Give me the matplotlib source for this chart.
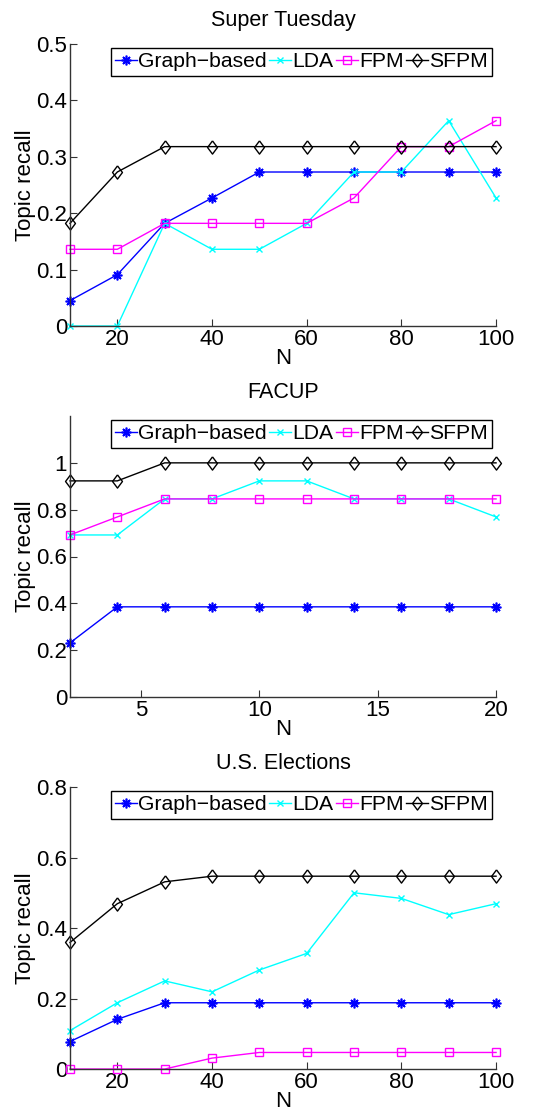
import matplotlib
matplotlib.use('Agg')
import matplotlib.pyplot as plt

plt.rcParams['font.family'] = ['Liberation Sans', 'DejaVu Sans']

# Super Tuesday
n_st = [10, 20, 30, 40, 50, 60, 70, 80, 90, 100]
st_graph = [0.045, 0.091, 0.182, 0.227, 0.273, 0.273, 0.273, 0.273, 0.273, 0.273]
st_lda = [0.0, 0.0, 0.182, 0.136, 0.136, 0.182, 0.273, 0.273, 0.364, 0.227]
st_fpm = [0.136, 0.136, 0.182, 0.182, 0.182, 0.182, 0.227, 0.318, 0.318, 0.364]
st_sfpm = [0.182, 0.273, 0.318, 0.318, 0.318, 0.318, 0.318, 0.318, 0.318, 0.318]

# FACUP
n_fa = [2, 4, 6, 8, 10, 12, 14, 16, 18, 20]
fa_graph = [0.231, 0.385, 0.385, 0.385, 0.385, 0.385, 0.385, 0.385, 0.385, 0.385]
fa_lda = [0.692, 0.692, 0.846, 0.846, 0.923, 0.923, 0.846, 0.846, 0.846, 0.769]
fa_fpm = [0.692, 0.769, 0.846, 0.846, 0.846, 0.846, 0.846, 0.846, 0.846, 0.846]
fa_sfpm = [0.923, 0.923, 1.0, 1.0, 1.0, 1.0, 1.0, 1.0, 1.0, 1.0]

# U.S. Elections
n_us = [10, 20, 30, 40, 50, 60, 70, 80, 90, 100]
us_graph = [0.078, 0.141, 0.188, 0.188, 0.188, 0.188, 0.188, 0.188, 0.188, 0.188]
us_lda = [0.109, 0.188, 0.25, 0.219, 0.281, 0.328, 0.5, 0.484, 0.438, 0.469]
us_fpm = [0.0, 0.0, 0.0, 0.031, 0.047, 0.047, 0.047, 0.047, 0.047, 0.047]
us_sfpm = [0.359, 0.469, 0.531, 0.547, 0.547, 0.547, 0.547, 0.547, 0.547, 0.547]

labels = ['Graph\u2212based', 'LDA', 'FPM', 'SFPM']

panels = [
    ('Super Tuesday', n_st, [st_graph, st_lda, st_fpm, st_sfpm],
     (10, 100), [20, 40, 60, 80, 100], (0, 0.5), [0, 0.1, 0.2, 0.3, 0.4, 0.5],
     ['0', '0.1', '0.2', '0.3', '0.4', '0.5'], [0.1296, 0.7071, 0.789, 0.2534]),
    ('FACUP', n_fa, [fa_graph, fa_lda, fa_fpm, fa_sfpm],
     (2, 20), [5, 10, 15, 20], (0, 1.2), [0, 0.2, 0.4, 0.6, 0.8, 1.0],
     ['0', '0.2', '0.4', '0.6', '0.8', '1'], [0.1296, 0.3738, 0.789, 0.2524]),
    ('U.S. Elections', n_us, [us_graph, us_lda, us_fpm, us_sfpm],
     (10, 100), [20, 40, 60, 80, 100], (0, 0.8), [0, 0.2, 0.4, 0.6, 0.8],
     ['0', '0.2', '0.4', '0.6', '0.8'], [0.1296, 0.0395, 0.789, 0.2534]),
]

diamond = [(0, 1), (0.75, 0), (0, -1), (-0.75, 0), (0, 1)]
styles = [
    dict(color='#0000ff', marker=(8, 2, 0), markersize=7, markeredgewidth=1.2),
    dict(color='#00ffff', marker='x', markersize=5, markeredgewidth=1.0),
    dict(color='#ff00ff', marker='s', markersize=5.5, markerfacecolor='none'),
    dict(color='black', marker=diamond, markersize=9.5, markerfacecolor='none'),
]

fig = plt.figure(figsize=(5.4, 11.13), dpi=100)

for title, x, series, xlim, xt, ylim, yt, ytl, pos in panels:
    ax = fig.add_axes(pos)
    for ys, lab, st in zip(series, labels, styles):
        ax.plot(x, ys, label=lab, linewidth=1.0, clip_on=False, **st)
    ax.set_xlim(*xlim)
    ax.set_ylim(*ylim)
    ax.set_xticks(xt)
    ax.set_yticks(yt)
    ax.set_yticklabels(ytl)
    ax.spines['top'].set_visible(False)
    ax.spines['right'].set_visible(False)
    for s in ['left', 'bottom']:
        ax.spines[s].set_color('#333333')
        ax.spines[s].set_linewidth(1.0)
    ax.tick_params(axis='both', direction='in', length=5, labelsize=16, pad=2,
                   color='#333333')
    ax.set_title(title, fontsize=15.5, pad=13)
    ax.set_xlabel('N', fontsize=16, labelpad=-1)
    ax.set_ylabel('Topic recall', fontsize=16, labelpad=0)
    leg = ax.legend(loc='upper right', ncol=4, fontsize=15.2, handlelength=1.05,
                    handletextpad=0.05, columnspacing=0.1, borderpad=0.2,
                    borderaxespad=0.2, fancybox=False, framealpha=1,
                    edgecolor='black')
    leg.get_frame().set_linewidth(1.0)

fig.savefig('out.png', dpi=100)
